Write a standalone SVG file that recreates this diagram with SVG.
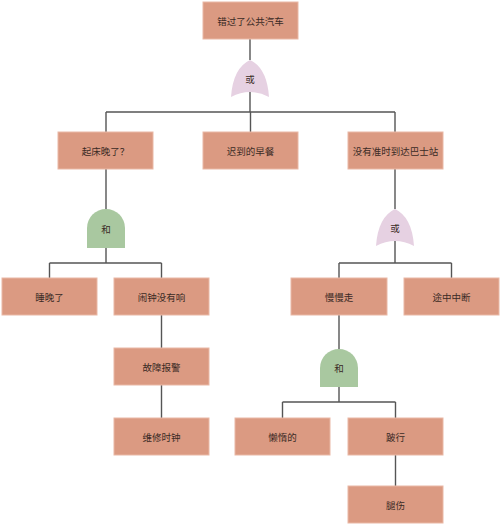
<svg xmlns="http://www.w3.org/2000/svg" width="500" height="525" viewBox="0 0 500 525">
<style>
.box{fill:#DB9A82;stroke:#E9B8A5;stroke-width:1}
.or{fill:#E6D1E2}
.and{fill:#A9C8A0}
.t{font-family:"Noto Sans CJK SC","Noto Sans",sans-serif;font-size:9.5px;fill:#3a2a25;text-anchor:middle;dominant-baseline:central}
.c{fill:none;stroke:#555;stroke-width:1.4}
</style>
<rect width="500" height="525" fill="#fff"/>
<g id="connectors">
<path class="c" d="M250,39 V60"/>
<path class="c" d="M250,91 V112 M106,112 H395 M106,112 V132 M250.5,112 V132 M395,112 V132"/>
<path class="c" d="M106,169 V209"/>
<path class="c" d="M106,248 V263 M49.5,263 H161.5 M49.5,263 V278 M161.5,263 V278"/>
<path class="c" d="M395,169 V209"/>
<path class="c" d="M395,240 V263 M339,263 H451.5 M339,263 V278 M451.5,263 V278"/>
<path class="c" d="M161.5,315 V348 M161.5,385 V418"/>
<path class="c" d="M339,315 V349"/>
<path class="c" d="M339,387 V402 M282.5,402 H395.5 M282.5,402 V418 M395.5,402 V418"/>
<path class="c" d="M395.5,455 V486"/>
</g>
<g id="n-top"><rect class="box" x="203" y="2" width="95" height="37"/><text class="t" x="250.5" y="20.5">错过了公共汽车</text></g>
<g id="g-or1"><path class="or" d="M231,97 Q233,68 250,60 Q267,68 269,97 Q250,87 231,97 Z"/><text class="t" x="250" y="79">或</text></g>
<g id="n-wake"><rect class="box" x="58" y="132" width="95" height="37"/><text class="t" x="105.5" y="150.5">起床晚了？</text></g>
<g id="n-breakfast"><rect class="box" x="203" y="132" width="95" height="37"/><text class="t" x="250.5" y="150.5">迟到的早餐</text></g>
<g id="n-bus"><rect class="box" x="348" y="132" width="95" height="37"/><text class="t" x="395.5" y="150.5">没有准时到达巴士站</text></g>
<g id="g-and1"><path class="and" d="M87,248 V228 A19,19 0 0 1 125,228 V248 Z"/><text class="t" x="106" y="229">和</text></g>
<g id="g-or2"><path class="or" d="M376,246 Q378,217 395,209 Q412,217 414,246 Q395,236 376,246 Z"/><text class="t" x="395" y="228">或</text></g>
<g id="n-sleep"><rect class="box" x="2" y="278" width="95" height="37"/><text class="t" x="49.5" y="296.5">睡晚了</text></g>
<g id="n-alarm"><rect class="box" x="114" y="278" width="95" height="37"/><text class="t" x="161.5" y="296.5">闹钟没有响</text></g>
<g id="n-slow"><rect class="box" x="291" y="278" width="96" height="37"/><text class="t" x="339" y="296.5">慢慢走</text></g>
<g id="n-interrupt"><rect class="box" x="404" y="278" width="95" height="37"/><text class="t" x="451.5" y="296.5">途中中断</text></g>
<g id="n-fault"><rect class="box" x="114" y="348" width="95" height="37"/><text class="t" x="161.5" y="366.5">故障报警</text></g>
<g id="g-and2"><path class="and" d="M320,387 V368 A19,19 0 0 1 358,368 V387 Z"/><text class="t" x="339" y="368">和</text></g>
<g id="n-repair"><rect class="box" x="114" y="418" width="95" height="37"/><text class="t" x="161.5" y="436.5">维修时钟</text></g>
<g id="n-lazy"><rect class="box" x="235" y="418" width="95" height="37"/><text class="t" x="282.5" y="436.5">懒惰的</text></g>
<g id="n-limp"><rect class="box" x="348" y="418" width="95" height="37"/><text class="t" x="395.5" y="436.5">跛行</text></g>
<g id="n-leg"><rect class="box" x="348" y="486" width="95" height="37"/><text class="t" x="395.5" y="504.5">腿伤</text></g>
</svg>
